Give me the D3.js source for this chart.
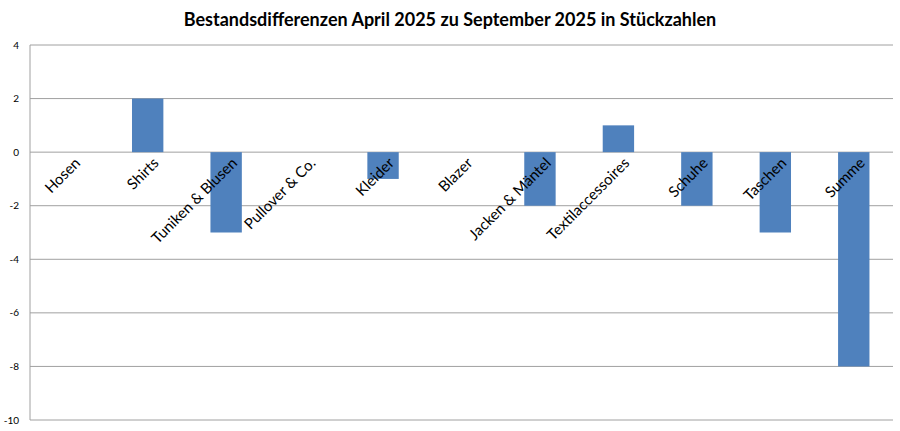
<!DOCTYPE html>
<html><head><meta charset="utf-8">
<script src="https://cdn.jsdelivr.net/npm/d3@7"></script>
<style>body{margin:0;background:#fff}</style>
</head><body><svg id="c" width="900" height="431"></svg>
<script>
var categories = ["Hosen","Shirts","Tuniken & Blusen","Pullover & Co.","Kleider","Blazer","Jacken & Mäntel","Textilaccessoires","Schuhe","Taschen","Summe"];
var values = [0,2,-3,0,-1,0,-2,1,-2,-3,-8];
var yTicks = [4,2,0,-2,-4,-6,-8,-10];

var svg = d3.select("#c");
var x = d3.scaleBand().domain(categories).range([30,893]).paddingInner(0.6).paddingOuter(0.3);
var y = d3.scaleLinear().domain([-10,4]).range([420,45]);

svg.append("text").attr("x",450).attr("y",26).attr("text-anchor","middle")
    .attr("font-family","Lato, sans-serif").attr("font-weight","bold").attr("font-size",18)
    .text("Bestandsdifferenzen April 2025 zu September 2025 in Stückzahlen");

svg.selectAll(".grid").data(yTicks).enter().append("line")
    .attr("x1",30).attr("x2",893).attr("y1",function(d){return y(d);}).attr("y2",function(d){return y(d);})
    .attr("stroke","#a0a0a0").attr("stroke-width",1);
svg.append("line").attr("x1",30).attr("x2",30).attr("y1",45).attr("y2",420).attr("stroke","#a0a0a0");

svg.selectAll(".yl").data(yTicks).enter().append("text")
    .attr("x",19).attr("y",function(d){return y(d)+3.5;}).attr("text-anchor","end")
    .attr("font-family","Lato, sans-serif").attr("font-size",10).text(function(d){return d;});

svg.selectAll(".bar").data(values).enter().append("rect")
    .attr("x",function(d,i){return x(categories[i]);}).attr("width",x.bandwidth())
    .attr("y",function(d){return y(Math.max(0,d));})
    .attr("height",function(d){return Math.abs(y(d)-y(0));})
    .attr("fill","#4f81bd");

svg.selectAll(".xl").data(categories).enter().append("text")
    .attr("transform",function(d){var cx=x(d)+x.bandwidth()/2+12;return "translate("+cx+",164) rotate(-45)";})
    .attr("text-anchor","end").attr("font-family","Lato, sans-serif").attr("font-size",15)
    .text(function(d){return d;});
</script></body></html>
